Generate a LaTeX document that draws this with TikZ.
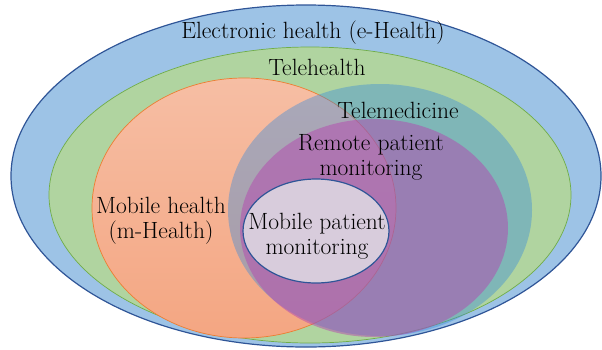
\documentclass[tikz,border=0pt]{standalone}
\usetikzlibrary{shapes.geometric}
\definecolor{ehblue}{RGB}{157,195,230}
\definecolor{ehblueline}{RGB}{47,85,151}
\definecolor{thgreen}{RGB}{176,212,160}
\definecolor{thgreenline}{RGB}{112,173,71}
\definecolor{mhtop}{RGB}{246,190,164}
\definecolor{mhbot}{RGB}{244,166,130}
\definecolor{mhline}{RGB}{237,125,49}
\definecolor{tmteal}{RGB}{55,138,219}
\definecolor{rpmpurple}{RGB}{180,72,176}
\definecolor{mpmfill}{RGB}{216,204,220}
\tikzset{
  lbl/.style={font=\fontsize{23.5}{25}\selectfont, align=center, inner sep=0pt},
}
\begin{document}
\begin{tikzpicture}[x=1pt,y=-1pt]
\useasboundingbox (0,0) rectangle (602,349);
\begin{scope}
\clip (0,0) rectangle (602,349);
\fill[ehblue, draw=ehblueline, line width=1.2pt] (306,176) ellipse [x radius=295, y radius=171];
\end{scope}
\fill[thgreen, draw=thgreenline, line width=0.7pt] (310,195) ellipse [x radius=261, y radius=148];
\shade[top color=mhtop, bottom color=mhbot, draw=mhline, line width=0.7pt] (244,208) ellipse [x radius=152, y radius=130];
\fill[tmteal, fill opacity=0.4] (380,210) ellipse [x radius=152, y radius=126];
\fill[rpmpurple, fill opacity=0.5] (374,228) ellipse [x radius=134, y radius=109];
\fill[mpmfill, draw=ehblueline, line width=1.2pt] (316,231) ellipse [x radius=73, y radius=52];
\node[lbl] (eh) at (313,33) {Electronic health (e-Health)};
\node[lbl] (th) at (317,67) {Telehealth};
\node[lbl] (tm) at (398,110) {Telemedicine};
\node[lbl] (rpm) at (371,157) {Remote patient\\monitoring};
\node[lbl] (mh) at (161,221) {Mobile health\\(m-Health)};
\node[lbl] (mpm) at (317,236) {Mobile patient\\monitoring};
\end{tikzpicture}
\end{document}
